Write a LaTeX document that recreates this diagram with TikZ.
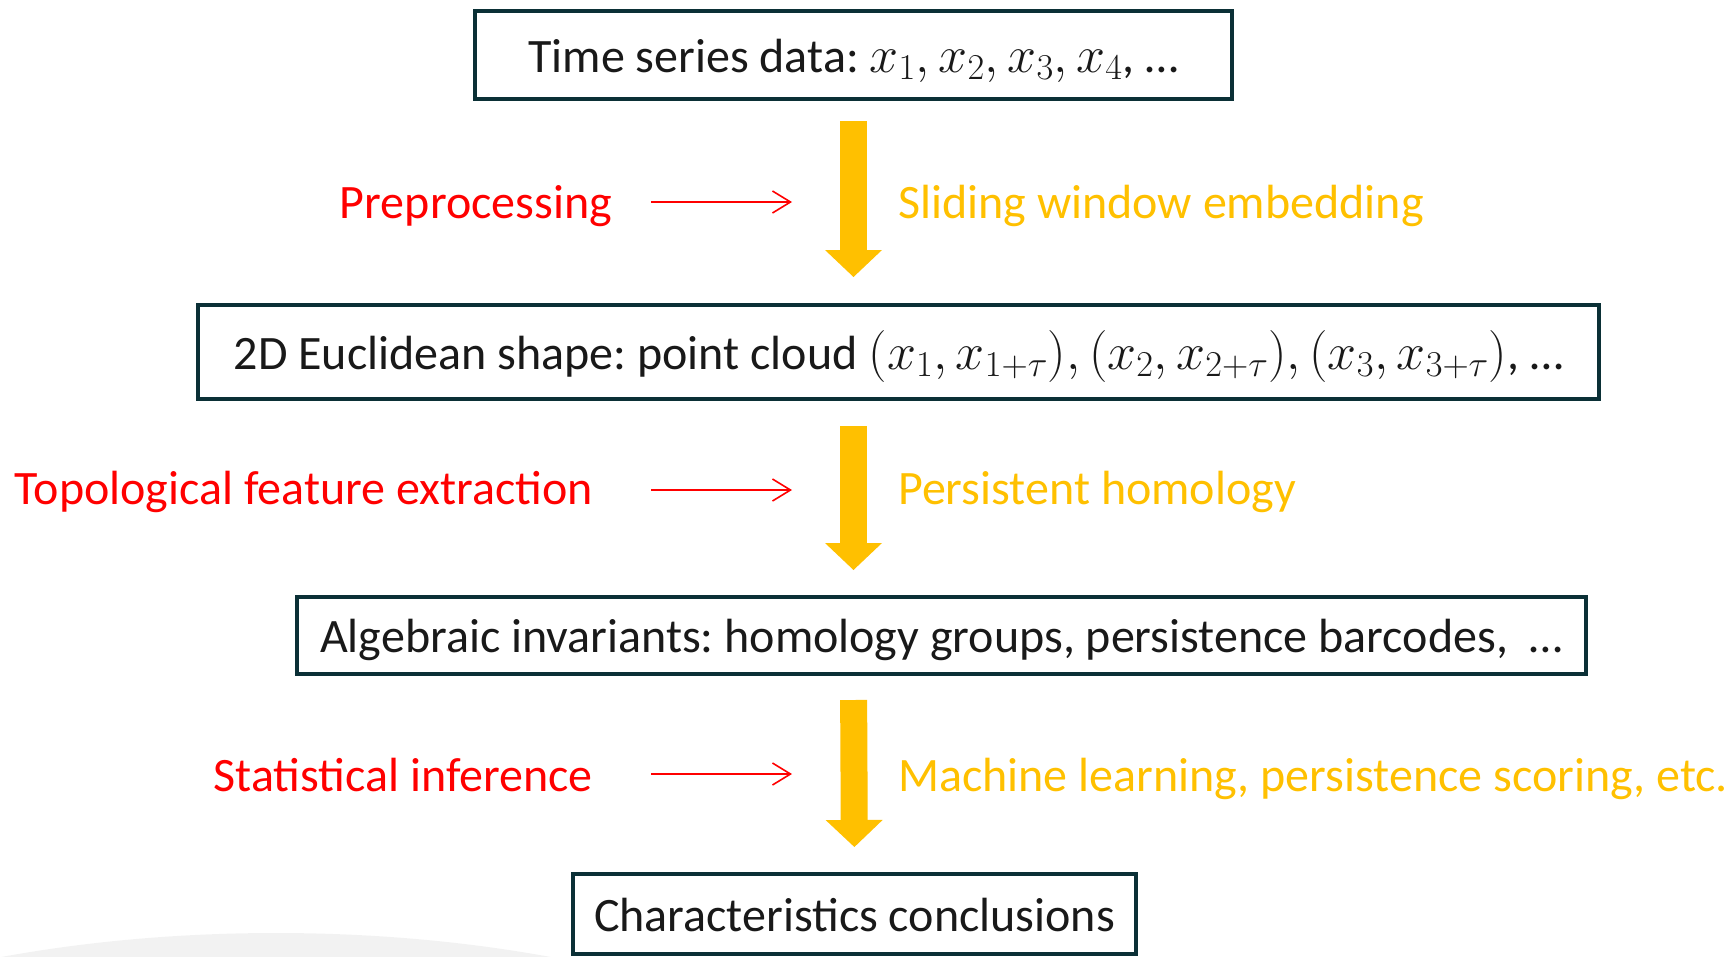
\documentclass[tikz,border=0pt]{standalone}
\usepackage{fix-cm}
\usepackage{fontspec}
\setmainfont{Carlito}
\usetikzlibrary{arrows.meta}
\frenchspacing
\definecolor{boxline}{HTML}{0B3036}
\definecolor{flowyellow}{HTML}{FFC000}
\definecolor{labelred}{HTML}{FF0000}
\definecolor{wash}{HTML}{F2F2F2}
% formulas set a little larger than the running text
\newcommand{\bigmath}[1]{{\fontsize{52}{60}\selectfont$#1$}}
\tikzset{
  stagebox/.style={draw=boxline, line width=4pt, fill=white, inner sep=0pt,
    align=center, text=black!90, text height=46pt, text depth=12pt},
  stepname/.style={text=labelred, inner sep=0pt, anchor=base east},
  method/.style={text=flowyellow, inner sep=0pt, anchor=base west},
  flow/.style={draw=flowyellow, line width=27pt,
    -{Triangle[width=57pt, length=27pt, line width=0pt]}},
  pointer/.style={draw=labelred, line width=1.6pt,
    -{Straight Barb[length=18pt, width=22pt, line width=1.6pt]}}
}
\begin{document}
\begin{tikzpicture}[x=1pt, y=-1pt, font=\fontsize{48}{56}\selectfont]
  \useasboundingbox (0,0) rectangle (1734,956);
  % soft background swell in the lower left corner
  \begin{scope}
    \clip (0,0) rectangle (1734,956);
    \fill[wash] (276,1233) ellipse [x radius=700, y radius=300];
  \end{scope}

  % stage boxes
  \node[stagebox, minimum width=757, minimum height=88] (b1) at (853.5,55)
    {Time series data: \bigmath{x_1, x_2, x_3, x_4}, \dots};
  \node[stagebox, minimum width=1401, minimum height=94] (b2) at (898.5,352)
    {2D Euclidean shape: point cloud \bigmath{(x_1, x_{1+\tau}), (x_2, x_{2+\tau}), (x_3, x_{3+\tau})}, \dots};
  \node[stagebox, minimum width=1289, minimum height=77] (b3) at (941.5,635.5)
    {Algebraic invariants: homology groups, persistence barcodes,~ \dots};
  \node[stagebox, minimum width=563, minimum height=80] (b4) at (854.5,914)
    {Characteristics conclusions};

  % main flow
  \draw[flow, shorten <=20pt, shorten >=26pt] (b1.south) -- (b1.south |- b2.north);
  \draw[flow, shorten <=25pt, shorten >=25pt] (b2.south -| b1.south) -- (b3.north -| b1.south);
  \draw[flow, shorten <=24pt, shorten >=25pt] (b3.south -| b1.south) -- (b4.north);

  % step names and the methods used
  \node[stepname] (s1) at (612,218) {Preprocessing};
  \node[method] (m1) at (898,218) {Sliding window embedding};
  \node[stepname] (s2) at (593,504) {Topological feature extraction};
  \node[method] (m2) at (898,504) {Persistent homology};
  \node[stepname] (s3) at (593,791) {Statistical inference};
  \node[method] (m3) at (898,791) {Machine learning, persistence scoring, etc.};

  \coordinate (p1a) at (651,202); \coordinate (p1b) at (792,202);
  \coordinate (p2a) at (651,490); \coordinate (p2b) at (792,490);
  \coordinate (p3a) at (651,774); \coordinate (p3b) at (792,774);
  \draw[pointer] (p1a) -- (p1b);
  \draw[pointer] (p2a) -- (p2b);
  \draw[pointer] (p3a) -- (p3b);
\end{tikzpicture}
\end{document}
